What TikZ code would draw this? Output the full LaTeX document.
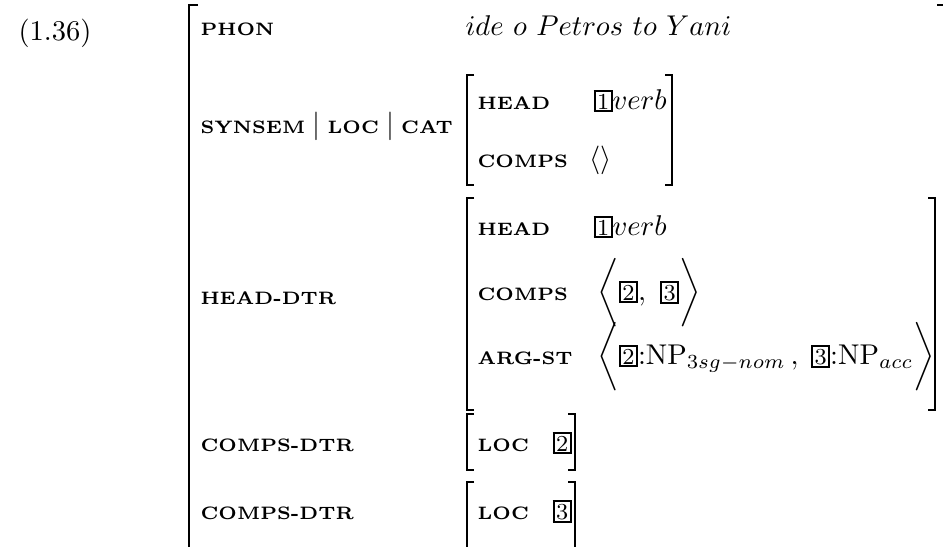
\documentclass[tikz,border=0pt]{standalone}
\usepackage{fontspec}
\usepackage{amsmath}
\usetikzlibrary{positioning}

\newcommand{\attr}[1]{{\fontsize{6.3}{7}\selectfont\bfseries\addfontfeatures{LetterSpace=14}#1}}
\newcommand{\tagbox}[1]{{\setlength{\fboxsep}{0.5pt}\setlength{\fboxrule}{0.7pt}\fbox{\fontsize{8}{9}\selectfont#1}}}

\begin{document}
\begin{tikzpicture}[x=0.35pt, y=-0.35pt,
        every node/.style={inner sep=0pt, anchor=base west},
        bracket/.style={line width=0.6pt}]
            % pixel grid of the original, y going down
            \useasboundingbox (0,0) rectangle (943,546);
            \clip (0,0) rectangle (943,546);
            \node (num) at (18,40) {(1.36)};
            % outer matrix
            \draw[bracket] (198,5) -- (189,5) -- (189,560);
            \draw[bracket] (937,5) -- (946,5) -- (946,560);
            \node (phon) at (200,35) {\attr{PHON}};
            \node (phonval) at (465,35) {$ide\ o\ Petros\ to\ Yani$};
            \node (synsem) at (200,133) {\attr{SYNSEM}\hspace{2.5pt}$|$\hspace{2.5pt}\attr{LOC}\hspace{2.5pt}$|$\hspace{2.5pt}\attr{CAT}};
            % synsem|loc|cat value
            \draw[bracket] (474,75) -- (467,75) -- (467,185) -- (474,185);
            \draw[bracket] (665,75) -- (672,75) -- (672,185) -- (665,185);
            \node (shead) at (477,109) {\attr{HEAD}};
            \node (sheadval) at (593,109) {\tagbox{1}$verb$};
            \node (scomps) at (477,167) {\attr{COMPS}};
            \node (scompsval) at (589,167) {$\langle\rangle$};
            % head daughter
            \node (hdtr) at (200,304) {\attr{HEAD-DTR}};
            \draw[bracket] (474,198) -- (467,198) -- (467,410) -- (474,410);
            \draw[bracket] (928,198) -- (935,198) -- (935,410) -- (928,410);
            \node (hhead) at (477,235) {\attr{HEAD}};
            \node (hheadval) at (593,235) {\tagbox{1}$verb$};
            \node (hcomps) at (477,300) {\attr{COMPS}};
            \node (hcompsval) at (597,300) {$\bigg\langle\tagbox{2},\ \tagbox{3}\bigg\rangle$};
            \node (hargst) at (477,364) {\attr{ARG-ST}};
            \node (hargstval) at (597,364) {$\bigg\langle\tagbox{2}{:}\mathrm{NP}_{3sg-nom}\,,\;\tagbox{3}{:}\mathrm{NP}_{acc}\bigg\rangle$};
            % complement daughters
            \node (cdtra) at (200,451) {\attr{COMPS-DTR}};
            \draw[bracket] (474,414) -- (467,414) -- (467,470) -- (474,470);
            \draw[bracket] (568,414) -- (575,414) -- (575,470) -- (568,470);
            \node (loca) at (477,451) {\attr{LOC}};
            \node (locaval) at (552,451) {\tagbox{2}};
            \node (cdtrb) at (200,519) {\attr{COMPS-DTR}};
            \draw[bracket] (474,482) -- (467,482) -- (467,560);
            \draw[bracket] (568,482) -- (575,482) -- (575,560);
            \node (locb) at (477,519) {\attr{LOC}};
            \node (locbval) at (552,519) {\tagbox{3}};
        \end{tikzpicture}
\end{document}
